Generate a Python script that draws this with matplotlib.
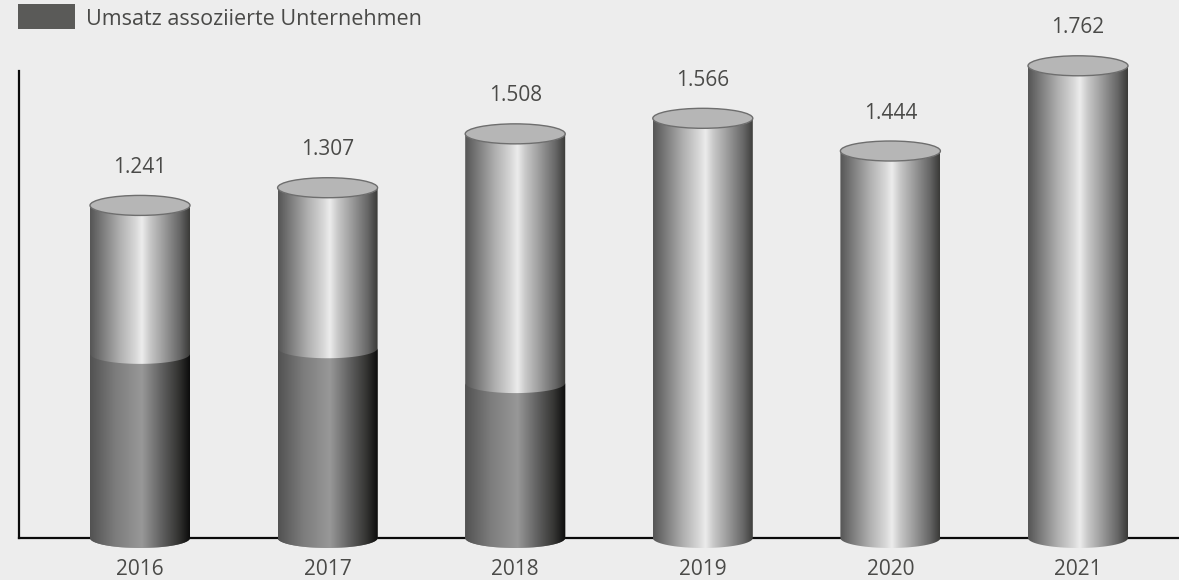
# plot.py
# Cylinder columns, Umsatz with the share of associated companies in dark.

import numpy as np
import matplotlib
matplotlib.use('Agg')
import matplotlib.pyplot as plt
from matplotlib.colors import LinearSegmentedColormap
from matplotlib.patches import Ellipse, PathPatch, Rectangle
from matplotlib.path import Path

years = ['2016', '2017', '2018', '2019', '2020', '2021']
totals = [1241, 1307, 1508, 1566, 1444, 1762]
associated = [687, 708, 578, 0, 0, 0]
legend_label = 'Umsatz assoziierte Unternehmen'

bg = '#ededed'
text_col = '#4a4a48'
plt.rcParams['font.family'] = ['Open Sans', 'DejaVu Sans']

light_cm = LinearSegmentedColormap.from_list('light', [
    (0.0, '#565656'), (0.10, '#747474'), (0.30, '#b0b0b0'), (0.45, '#d6d6d6'), (0.52, '#ececec'),
    (0.60, '#c8c8c8'), (0.75, '#989898'), (0.90, '#666666'), (1.0, '#3a3a38')])
dark_cm = LinearSegmentedColormap.from_list('dark', [
    (0.0, '#525252'), (0.25, '#7c7c7c'), (0.52, '#989898'),
    (0.72, '#606060'), (0.88, '#363634'), (1.0, '#0c0c0c')])

W = 1179
H = 580
fig = plt.figure(figsize=(W / 100, H / 100), dpi=100, facecolor=bg)
ax = fig.add_axes([0, 0, 1, 1])
ax.set_facecolor(bg)
ax.axis('off')

# one year is 187.6 px wide, one unit of value 0.268 px high
x_per_px = 1 / 187.6
y_per_px = 1 / 0.268
x0_px = 140
y0_px = 538
half_w = 50 * x_per_px
ry = 10 * y_per_px


def px_x(p):
    return (p - x0_px) * x_per_px


def px_y(p):
    return (y0_px - p) * y_per_px


def body_path(xc, y_bottom, y_top):
    # side walls with a sagging arc at both ends
    t = np.linspace(np.pi, 2 * np.pi, 40)
    low = np.column_stack([xc + half_w * np.cos(t), y_bottom + ry * np.sin(t)])
    up = np.column_stack([xc + half_w * np.cos(t[::-1]), y_top + ry * np.sin(t[::-1])])
    return Path(np.vstack([low, up, low[:1]]), closed=True)


def draw_body(xc, y_bottom, y_top, cmap, z):
    im = ax.imshow(np.linspace(0, 1, 256).reshape(1, -1), cmap=cmap, aspect='auto',
                   extent=(xc - half_w, xc + half_w, y_bottom - ry, y_top + ry),
                   zorder=z, interpolation='bilinear')
    clip = PathPatch(body_path(xc, y_bottom, y_top), transform=ax.transData,
                     facecolor='none', edgecolor='none')
    ax.add_patch(clip)
    im.set_clip_path(clip)


# axis lines
ax.plot([px_x(19), px_x(W)], [0, 0], color='#0a0a0a', lw=1.6, zorder=1)
ax.plot([px_x(19), px_x(19)], [0, px_y(71)], color='#0a0a0a', lw=1.6, zorder=1)

for i, year in enumerate(years):
    draw_body(i, 0, totals[i], light_cm, 2)
    if associated[i]:
        draw_body(i, 0, associated[i], dark_cm, 3)
    ax.add_patch(Ellipse((i, totals[i]), 2 * half_w, 2 * ry, facecolor='#b6b6b6',
                         edgecolor='#6e6e6e', lw=1.0, zorder=4))
    ax.text(i, totals[i] + 38 * y_per_px, f'{totals[i] / 1000:.3f}', ha='center', va='center',
            fontsize=15, color=text_col)
    # baseline well above the lower edge so the digits stay whole
    ax.text(i, px_y(575), year, ha='center', va='baseline', fontsize=15, color=text_col)

# legend
ax.add_patch(Rectangle((px_x(18), px_y(29)), 57 * x_per_px, 25 * y_per_px,
                       facecolor='#5a5a58', edgecolor='none', zorder=2))
ax.text(px_x(86), px_y(25), legend_label, ha='left', va='baseline', fontsize=15.5, color=text_col)

ax.set_xlim(px_x(0), px_x(W))
ax.set_ylim(px_y(H), px_y(0))

fig.savefig('out.png', dpi=100, facecolor=bg)
